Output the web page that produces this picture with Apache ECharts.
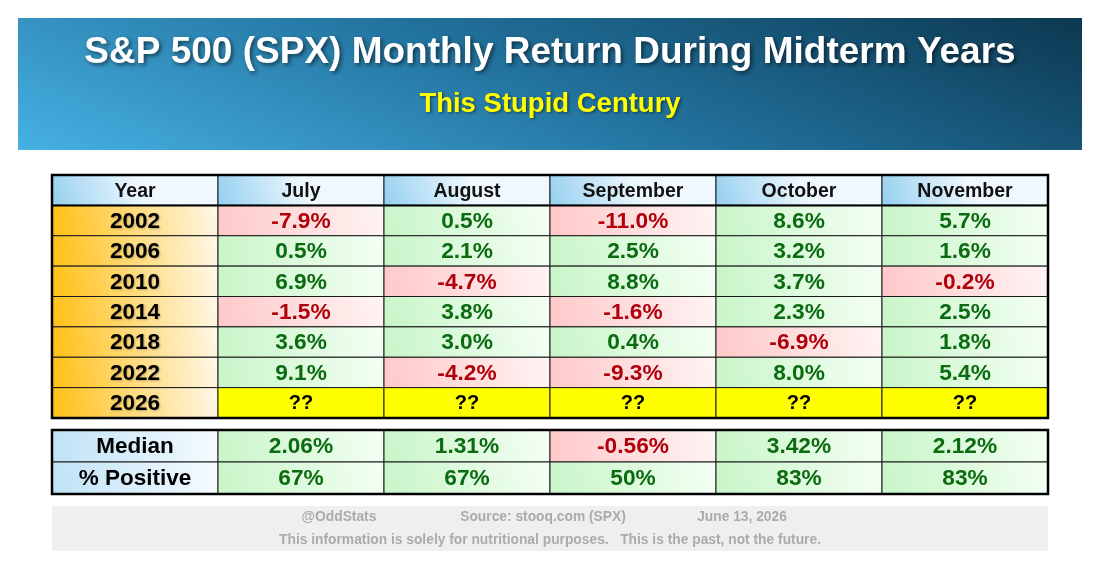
<!DOCTYPE html>
<html>
<head>
<meta charset="utf-8">
<script src="https://cdn.jsdelivr.net/npm/echarts@6/dist/echarts.min.js"></script>
<style>
html,body{margin:0;padding:0;background:#fff;}
#chart{width:1100px;height:571px;}
</style>
</head>
<body>
<div id="chart"></div>
<script>
// ---- data ----
const titleText = 'S&P 500 (SPX) Monthly Return During Midterm Years';
const subtitleText = 'This Stupid Century';
const months = ['July', 'August', 'September', 'October', 'November'];
const years = ['2002', '2006', '2010', '2014', '2018', '2022', '2026'];
const julyReturns = [-7.9, 0.5, 6.9, -1.5, 3.6, 9.1, null];
const augustReturns = [0.5, 2.1, -4.7, 3.8, 3.0, -4.2, null];
const septemberReturns = [-11.0, 2.5, 8.8, -1.6, 0.4, -9.3, null];
const octoberReturns = [8.6, 3.2, 3.7, 2.3, -6.9, 8.0, null];
const novemberReturns = [5.7, 1.6, -0.2, 2.5, 1.8, 5.4, null];
const medianReturns = [2.06, 1.31, -0.56, 3.42, 2.12];
const pctPositive = [67, 67, 50, 83, 83];
const statLabels = ['Median', '% Positive'];
const footerLine1 = ['@OddStats', 'Source: stooq.com (SPX)', 'June 13, 2026'];
const footerLine2 = 'This information is solely for nutritional purposes.   This is the past, not the future.';

const monthReturns = [julyReturns, augustReturns, septemberReturns, octoberReturns, novemberReturns];

// ---- build cells ----
const cells1 = [];
cells1.push({ value: [0, 0], text: 'Year', kind: 'header' });
months.forEach((m, j) => cells1.push({ value: [j + 1, 0], text: m, kind: 'header' }));
years.forEach((y, i) => {
  cells1.push({ value: [0, i + 1], text: y, kind: 'year' });
  monthReturns.forEach((arr, j) => {
    const v = arr[i];
    if (v === null) cells1.push({ value: [j + 1, i + 1], text: '??', kind: 'unknown' });
    else cells1.push({ value: [j + 1, i + 1], text: v.toFixed(1) + '%', kind: v < 0 ? 'neg' : 'pos' });
  });
});
const cells2 = [];
statLabels.forEach((s, r) => cells2.push({ value: [0, r], text: s, kind: 'label' }));
medianReturns.forEach((v, j) => cells2.push({ value: [j + 1, 0], text: v.toFixed(2) + '%', kind: v < 0 ? 'neg' : 'pos' }));
pctPositive.forEach((v, j) => cells2.push({ value: [j + 1, 1], text: v + '%', kind: v < 50 ? 'neg' : 'pos' }));

const FONT = '"Liberation Sans", Arial, sans-serif';
function grad(c0, c1) {
  return new echarts.graphic.LinearGradient(0, 1, 1, 0, [{ offset: 0, color: c0 }, { offset: 1, color: c1 }]);
}
function styleFor(kind) {
  switch (kind) {
    case 'header': return { fill: new echarts.graphic.LinearGradient(0, 1, 0.5, 0, [{ offset: 0, color: '#94cff0' }, { offset: 1, color: '#eef8fe' }]), color: '#111', font: 'bold 19.5px ' + FONT };
    case 'label': return { fill: new echarts.graphic.LinearGradient(0, 1, 1, 0, [{ offset: 0, color: '#bfe2f6' }, { offset: 1, color: '#f6fcff' }]), color: '#000', font: 'bold 22.5px ' + FONT };
    case 'year': return { fill: grad('#ffbf12', '#fff8ea'), color: '#000', font: 'bold 22.5px ' + FONT, shadow: true };
    case 'pos': return { fill: grad('#c8f5c8', '#f4fff4'), color: '#0b6b10', font: 'bold 22.7px ' + FONT };
    case 'neg': return { fill: grad('#ffc8c8', '#fff4f4'), color: '#b0000c', font: 'bold 22.7px ' + FONT };
    default: return { fill: '#ffff00', color: '#000', font: 'bold 20px ' + FONT };
  }
}
function makeRender(cells) {
  return function (params, api) {
    const cell = cells[params.dataIndex];
    const c = api.coord([api.value(0), api.value(1)]);
    const s = api.size([1, 1]);
    const st = styleFor(cell.kind);
    const ts = { text: cell.text, x: c[0], y: c[1] + 1, align: 'center', verticalAlign: 'middle', font: st.font, fill: st.color };
    if (st.shadow) { ts.textShadowColor = 'rgba(0,0,0,0.25)'; ts.textShadowBlur = 2; ts.textShadowOffsetX = 1; ts.textShadowOffsetY = 1; }
    return {
      type: 'group',
      children: [
        { type: 'rect', shape: { x: c[0] - s[0] / 2, y: c[1] - s[1] / 2, width: s[0], height: s[1] },
          style: { fill: st.fill, stroke: '#1a1a1a', lineWidth: 1 } },
        { type: 'text', style: ts }
      ]
    };
  };
}

const L = 52, W = 996, T1 = 175, H1 = 243, T2 = 430, H2 = 64;
const colCats = ['Year'].concat(months);

const chart = echarts.init(document.getElementById('chart'), null, { renderer: 'canvas' });
chart.setOption({
  animation: false,
  backgroundColor: '#ffffff',
  grid: [
    { left: L, width: W, top: T1, height: H1 },
    { left: L, width: W, top: T2, height: H2 }
  ],
  xAxis: [
    { type: 'category', data: colCats, gridIndex: 0, show: false },
    { type: 'category', data: colCats, gridIndex: 1, show: false }
  ],
  yAxis: [
    { type: 'category', data: ['header'].concat(years), gridIndex: 0, inverse: true, show: false },
    { type: 'category', data: statLabels, gridIndex: 1, inverse: true, show: false }
  ],
  series: [
    { type: 'custom', xAxisIndex: 0, yAxisIndex: 0, data: cells1.map(c => c.value), renderItem: makeRender(cells1), z: 2 },
    { type: 'custom', xAxisIndex: 1, yAxisIndex: 1, data: cells2.map(c => c.value), renderItem: makeRender(cells2), z: 2 }
  ],
  graphic: [
    { type: 'rect', shape: { x: 18, y: 18, width: 1064, height: 132 }, z: 0,
      style: { fill: new echarts.graphic.LinearGradient(18, 150, 210, -331, [
        { offset: 0, color: '#46b1e3' }, { offset: 0.5, color: '#22729e' }, { offset: 1, color: '#0c3850' }], true) } },
    { type: 'text', z: 5, style: { text: titleText, x: 550, y: 53, align: 'center', verticalAlign: 'middle',
      font: 'bold 37px ' + FONT, fill: '#ffffff', textShadowColor: 'rgba(0,0,0,0.55)', textShadowBlur: 4,
      textShadowOffsetX: 2, textShadowOffsetY: 2 } },
    { type: 'text', z: 5, style: { text: subtitleText, x: 550, y: 104, align: 'center', verticalAlign: 'middle',
      font: 'bold 27.5px ' + FONT, fill: '#ffff00', textShadowColor: 'rgba(0,0,0,0.5)', textShadowBlur: 3,
      textShadowOffsetX: 1.5, textShadowOffsetY: 1.5 } },
    // table borders
    { type: 'rect', z: 10, shape: { x: L, y: T1, width: W, height: H1 }, style: { fill: null, stroke: '#000', lineWidth: 2.5 } },
    { type: 'line', z: 10, shape: { x1: L, y1: T1 + H1 / 8, x2: L + W, y2: T1 + H1 / 8 }, style: { stroke: '#000', lineWidth: 2 } },
    { type: 'rect', z: 10, shape: { x: L, y: T2, width: W, height: H2 }, style: { fill: null, stroke: '#000', lineWidth: 2.5 } },
    // footer
    { type: 'rect', z: 0, shape: { x: L, y: 506, width: W, height: 45 }, style: { fill: '#efefef' } },
    { type: 'text', z: 5, style: { text: footerLine1[0], x: 339, y: 517, align: 'center', verticalAlign: 'middle', font: 'bold 13.8px ' + FONT, fill: '#ababab' } },
    { type: 'text', z: 5, style: { text: footerLine1[1], x: 543, y: 517, align: 'center', verticalAlign: 'middle', font: 'bold 13.8px ' + FONT, fill: '#ababab' } },
    { type: 'text', z: 5, style: { text: footerLine1[2], x: 742, y: 517, align: 'center', verticalAlign: 'middle', font: 'bold 13.8px ' + FONT, fill: '#ababab' } },
    { type: 'text', z: 5, style: { text: footerLine2, x: 550, y: 540, align: 'center', verticalAlign: 'middle', font: 'bold 13.8px ' + FONT, fill: '#ababab' } }
  ]
});
</script>
</body>
</html>
